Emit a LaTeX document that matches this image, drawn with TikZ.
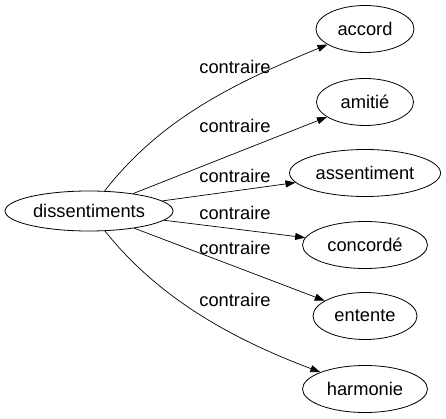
\documentclass[tikz,border=0pt]{standalone}
\usepackage{fontspec}
\setmainfont{Liberation Sans}
\usetikzlibrary{arrows.meta,shapes.geometric}

\tikzset{
	word/.style={draw, ellipse, line width=.8pt, inner sep=0pt, minimum height=47pt, font=\fontsize{18.3}{20}\selectfont},
	rel/.style={inner sep=0pt, font=\fontsize{18.3}{20}\selectfont},
	link/.style={->, line width=.7pt},
}

\begin{document}
\begin{tikzpicture}[x=1pt, y=-1pt, >={Triangle[length=10pt,width=7pt]}]
	\useasboundingbox (0,0) rectangle (446,419);

	% source word
	\node[word, minimum width=168pt, minimum height=40pt] (dis) at (89,211) {dissentiments};

	% opposite words
	\foreach \nm/\txt/\yy/\ww in {acc/accord/29/98, ami/amitié/102/97, ass/assentiment/173/151, con/concordé/245/125, ent/entente/316/104, har/harmonie/389/125}
		\node[word, minimum width=\ww pt] (\nm) at (365,\yy) {\txt};

	% relation labels
	\foreach \yy [count=\i] in {67,126,176,213,248,300}
		\node[rel] (lbl\i) at (235,\yy) {contraire};

	% curved links
	\draw[link] (dis) .. controls (160,120) and (230,85) .. (acc);
	\draw[link] (dis) .. controls (160,300) and (235,340) .. (har);

	% straight links
	\foreach \nm in {ami,ass,con,ent}
		\draw[link] (dis) -- (\nm);
\end{tikzpicture}
\end{document}
